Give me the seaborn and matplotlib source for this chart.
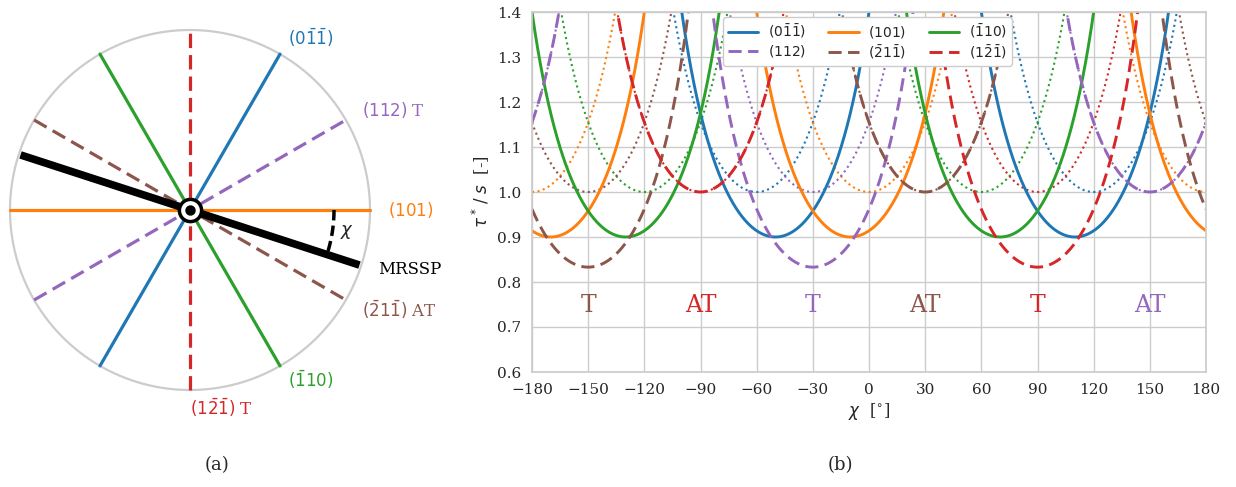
import numpy as np
import pandas as pd
import matplotlib
matplotlib.use('Agg')
import matplotlib.pyplot as plt
import seaborn as sns

# slip planes: label, colour, line style, orientation in the (a) diagram [deg]
plane_names = [r"$(0\bar{1}\bar{1})$", r"$(101)$", r"$(\bar{1}10)$",
               r"$(112)$", r"$(\bar{2}1\bar{1})$", r"$(1\bar{2}\bar{1})$"]
plane_colors = ["C0", "C1", "C2", "C4", "C5", "C3"]
plane_dashed = [False, False, False, True, True, True]
plane_angle = [60, 0, 120, 30, -30, 90]

# diagram labels (text, x, y in circle radii, ha)
diagram_text = [r"$(0\bar{1}\bar{1})$", r"$(101)$", r"$(\bar{1}10)$",
                r"$(112)$ T", r"$(\bar{2}1\bar{1})$ AT", r"$(1\bar{2}\bar{1})$ T"]
diagram_x = [0.672, 1.10, 0.672, 0.955, 0.955, 0.0]
diagram_y = [0.955, 0.0, -0.945, 0.555, -0.555, -1.10]
diagram_ha = ["center", "left", "center", "left", "left", "left"]
mrssp_angle = -18

# minima of the non-Schmid curves: chi [deg], tau*/s [-]
branch_chi = [[-50, 110], [-170, -10], [-130, 70], [-30, 150], [-150, 30], [-90, 90]]
branch_tau = [[0.9, 0.9], [0.9, 0.9], [0.9, 0.9], [0.833, 1.0], [0.833, 1.0], [1.0, 0.833]]
schmid_tau = 1.0

# twinning / antitwinning annotations
sense_chi = [-150, -90, -30, 30, 90, 150]
sense_text = ["T", "AT", "T", "AT", "T", "AT"]
sense_color = ["C5", "C3", "C4", "C5", "C3", "C4"]

chi = np.linspace(-180, 180, 1441)


def secant_branches(centres, minima, period):
    vals = np.full(chi.shape, 5.0)
    for c, m in zip(centres, minima):
        for k in (-2, -1, 0, 1, 2):
            d = np.radians(chi - c - k * period)
            ok = np.cos(d) > 0.05
            vals[ok] = np.minimum(vals[ok], m / np.cos(d[ok]))
    return vals


sns.set_theme(style="whitegrid", palette="tab10")
plt.rcParams['font.family'] = ['DejaVu Serif']
plt.rcParams['mathtext.fontset'] = 'dejavusans'

fig = plt.figure(figsize=(12.36, 4.87), dpi=100)

# ---------------- (a) diagram ----------------
ax_l = fig.add_axes([0, 47 / 487, 460 / 1236, 440 / 487])
ax_l.set_xlim(-190 / 180, 270 / 180)
ax_l.set_ylim(-230 / 180, 210 / 180)
ax_l.axis("off")

t = np.linspace(0, 2 * np.pi, 400)
ax_l.plot(np.cos(t), np.sin(t), color="#cccccc", lw=1.6, zorder=1)
for ang, col, dashed in zip(plane_angle, plane_colors, plane_dashed):
    a = np.radians(ang)
    ax_l.plot([-np.cos(a), np.cos(a)], [-np.sin(a), np.sin(a)], color=col, lw=2.3,
              ls=(0, (4.5, 2.2)) if dashed else "-", zorder=2)
a = np.radians(mrssp_angle)
ax_l.plot([-0.99 * np.cos(a), 0.99 * np.cos(a)], [-0.99 * np.sin(a), 0.99 * np.sin(a)],
          color="black", lw=5.5, solid_capstyle="butt", zorder=3)
arc = np.radians(np.linspace(0, mrssp_angle, 30))
ax_l.plot(0.8 * np.cos(arc), 0.8 * np.sin(arc), color="black", lw=2.5,
          ls=(0, (3, 1.5)), zorder=3)
ax_l.text(0.875, -0.12, r"$\chi$", fontsize=13, ha="center", va="center")
ax_l.plot([0], [0], marker="o", ms=16, mfc="white", mec="black", mew=2.5, zorder=4)
ax_l.plot([0], [0], marker="o", ms=6.5, color="black", zorder=5)
for txt, x, y, ha, col in zip(diagram_text, diagram_x, diagram_y, diagram_ha, plane_colors):
    ax_l.text(x, y, txt, color=col, fontsize=12, ha=ha, va="center")
ax_l.text(1.045, -0.333, "MRSSP", color="black", fontsize=12, ha="left", va="center")

# ---------------- (b) curves ----------------
ax_r = fig.add_axes([532 / 1236, 115 / 487, 674 / 1236, 360 / 487])
for col, ang in zip(plane_colors, plane_angle):
    sch = secant_branches([-ang], [schmid_tau], 180)
    df = pd.DataFrame({"chi": chi, "tau": sch})
    sns.lineplot(data=df, x="chi", y="tau", ax=ax_r, color=col, lw=1.5,
                 ls=":", sort=False, estimator=None)
for name, col, dashed, bc, bt in zip(plane_names, plane_colors, plane_dashed,
                                    branch_chi, branch_tau):
    ns = secant_branches(bc, bt, 360)
    df = pd.DataFrame({"chi": chi, "tau": ns})
    sns.lineplot(data=df, x="chi", y="tau", ax=ax_r, color=col, lw=2.1,
                 ls=(0, (4.5, 2.2)) if dashed else "-", sort=False, estimator=None,
                 label=name)

for x, s, c in zip(sense_chi, sense_text, sense_color):
    ax_r.text(x, 0.733, s, color=c, fontsize=17, ha="center", va="baseline")

ax_r.set_xlim(-180, 180)
ax_r.set_ylim(0.6, 1.4)
ax_r.set_xticks(np.arange(-180, 181, 30))
ax_r.set_yticks(np.arange(0.6, 1.41, 0.1))
ax_r.yaxis.set_major_formatter(matplotlib.ticker.FormatStrFormatter("%.1f"))
ax_r.tick_params(labelsize=11, colors=".15", pad=2)
ax_r.set_xlabel(r"$\chi$  [$^{\circ}$]", fontsize=12, color=".15", labelpad=3)
ax_r.set_ylabel(r"$\tau^*\,/\;s$  [-]", fontsize=12, color=".15", labelpad=4)

handles, labels = ax_r.get_legend_handles_labels()
order = [0, 3, 1, 4, 2, 5]
ax_r.legend([handles[i] for i in order], [labels[i] for i in order], ncol=3,
            loc="upper left", bbox_to_anchor=(0.283, 0.985), borderaxespad=0,
            fontsize=10, handlelength=2.2, handletextpad=0.7, columnspacing=1.6,
            labelspacing=0.2, borderpad=0.35, framealpha=1)

fig.text(217 / 1236, 1 - 465 / 487, "(a)", fontsize=13, ha="center", va="center")
fig.text(840 / 1236, 1 - 465 / 487, "(b)", fontsize=13, ha="center", va="center")

fig.savefig("out.png", dpi=100)
